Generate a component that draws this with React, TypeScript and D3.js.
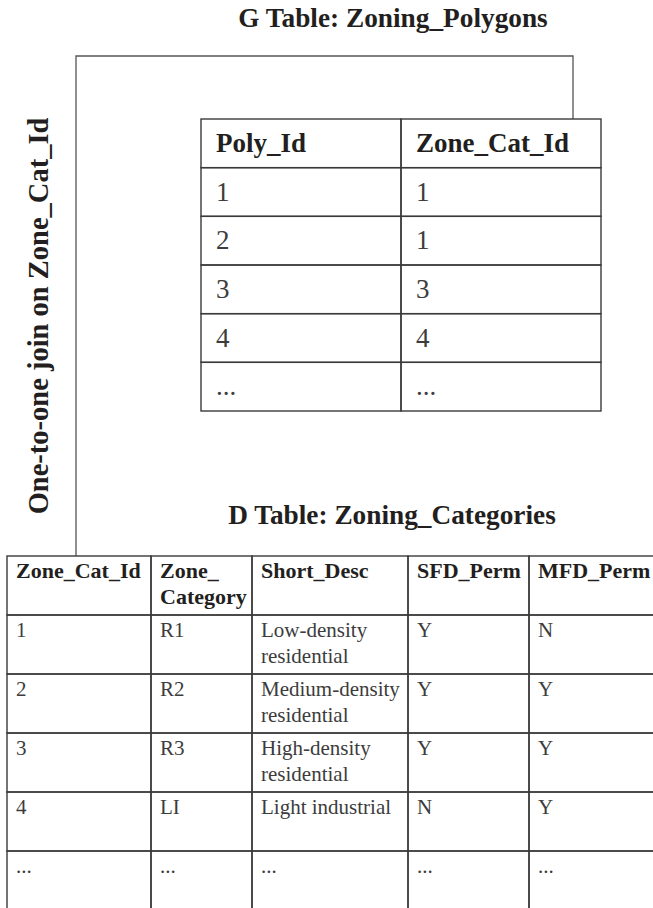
import * as d3 from 'd3';

// G table: Zoning_Polygons
const gTitle = 'G Table: Zoning_Polygons';
const gColumns = ['Poly_Id', 'Zone_Cat_Id'];
const polyIds = ['1', '2', '3', '4', '...'];
const polyZoneCatIds = ['1', '1', '3', '4', '...'];

// D table: Zoning_Categories
const dTitle = 'D Table: Zoning_Categories';
const dColumns = [['Zone_Cat_Id'], ['Zone_', 'Category'], ['Short_Desc'], ['SFD_Perm'], ['MFD_Perm']];
const zoneCatIds = ['1', '2', '3', '4', '...'];
const zoneCategories = ['R1', 'R2', 'R3', 'LI', '...'];
const shortDescs = [
  ['Low-density', 'residential'],
  ['Medium-density', 'residential'],
  ['High-density', 'residential'],
  ['Light industrial'],
  ['...'],
];
const sfdPerm = ['Y', 'Y', 'Y', 'N', '...'];
const mfdPerm = ['N', 'Y', 'Y', 'Y', '...'];

const joinLabel = 'One-to-one join on Zone_Cat_Id';

const W = 653;
const H = 908;
const FONT = '"Liberation Serif", "Times New Roman", serif';
const LINE = '#3a3a3a';
const INK = '#231f20';
const BODY = '#3c3c3c';

export default function App() {
  // G table layout
  const gRowKeys = d3.range(polyIds.length + 1);
  const gy = d3.scaleBand<number>().domain(gRowKeys).range([119, 411]);
  const gx = d3.scaleBand<number>().domain(d3.range(gColumns.length)).range([201, 601]);
  const gRows = [gColumns, ...polyIds.map((p, i) => [p, polyZoneCatIds[i]])];

  // D table layout (uneven columns, rows run off the bottom of the page)
  const dEdges = [7, 151, 252, 408, 529, 662];
  const dx = (i: number) => dEdges[i];
  const dRowKeys = d3.range(zoneCatIds.length + 1);
  const dy = d3.scaleBand<number>().domain(dRowKeys).range([556, 910]);
  const dRows: string[][][] = [
    dColumns,
    ...zoneCatIds.map((id, i) => [[id], [zoneCategories[i]], shortDescs[i], [sfdPerm[i]], [mfdPerm[i]]]),
  ];

  // connector between the two tables
  const conn = { top: 56, left: 76, right: 573 };
  const connector = d3.line()([
    [conn.left, dy(0)!],
    [conn.left, conn.top],
    [conn.right, conn.top],
    [conn.right, gy(0)!],
  ]);

  return (
    <>
      <style>{`body{margin:0}`}</style>
      <svg width={W} height={H} style={{ display: 'block', background: '#fff' }} fontFamily={FONT}>
        <path d={connector!} fill="none" stroke="#555" strokeWidth={1.3} />

        <text x={393} y={27} textAnchor="middle" fontSize={27.3} fontWeight="bold" fill={INK}>
          {gTitle}
        </text>

        <text
          transform={`translate(48, 316) rotate(-90)`}
          textAnchor="middle"
          fontSize={28.5}
          fontWeight="bold"
          fill={INK}
        >
          {joinLabel}
        </text>

        {/* G table */}
        <g>
          {gRows.map((row, r) =>
            row.map((cell, c) => (
              <g key={`g-${r}-${c}`}>
                <rect
                  x={gx(c)}
                  y={gy(r)}
                  width={gx.bandwidth()}
                  height={gy.bandwidth()}
                  fill="none"
                  stroke={LINE}
                  strokeWidth={1.4}
                />
                <text
                  x={gx(c)! + 15}
                  y={gy(r)! + 33}
                  fontSize={27}
                  fontWeight={r === 0 ? 'bold' : 'normal'}
                  fill={r === 0 ? INK : BODY}
                >
                  {cell}
                </text>
              </g>
            ))
          )}
        </g>

        <text x={392} y={524} textAnchor="middle" fontSize={27.3} fontWeight="bold" fill={INK}>
          {dTitle}
        </text>

        {/* D table */}
        <g>
          {dRows.map((row, r) =>
            row.map((lines, c) => (
              <g key={`d-${r}-${c}`}>
                <rect
                  x={dx(c)}
                  y={dy(r)}
                  width={dx(c + 1) - dx(c)}
                  height={dy.bandwidth()}
                  fill="none"
                  stroke={LINE}
                  strokeWidth={1.4}
                />
                <text
                  fontSize={r === 0 ? 22 : 21}
                  fontWeight={r === 0 ? 'bold' : 'normal'}
                  fill={r === 0 ? INK : BODY}
                >
                  {lines.map((t, k) => (
                    <tspan key={k} x={dx(c) + 9} y={dy(r)! + 22 + k * 26}>
                      {t}
                    </tspan>
                  ))}
                </text>
              </g>
            ))
          )}
        </g>
      </svg>
    </>
  );
}
